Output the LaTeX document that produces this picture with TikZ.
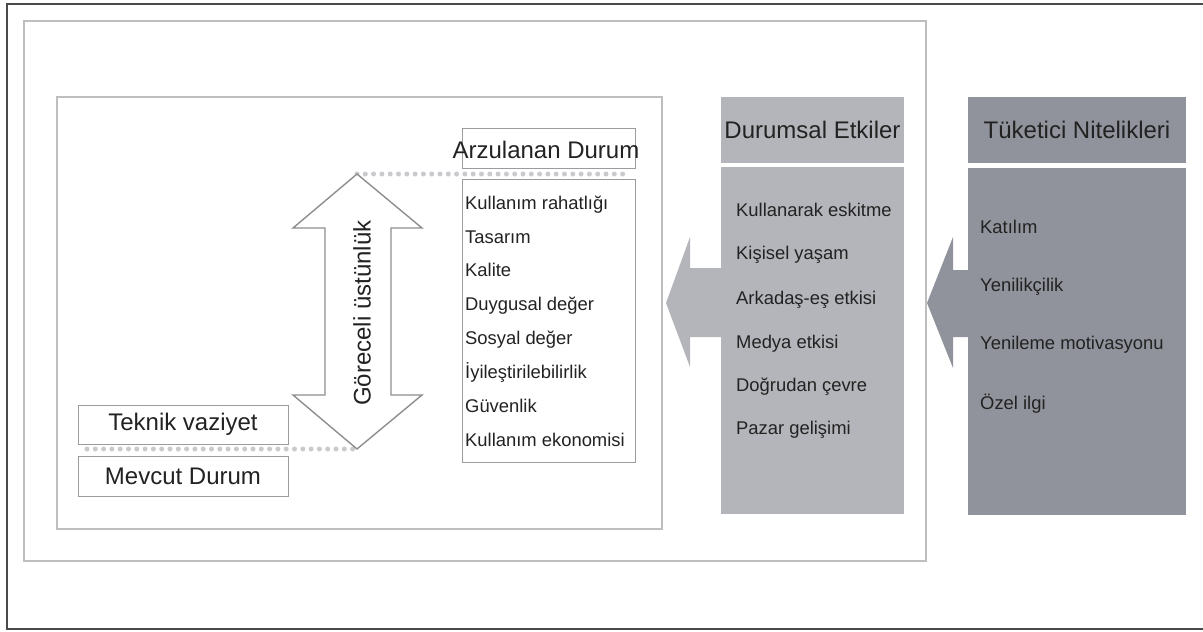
\documentclass[tikz,border=0pt]{standalone}
\usepackage{fontspec}
\setmainfont{Liberation Sans}
\usetikzlibrary{positioning}
\definecolor{ink}{HTML}{222222}
\definecolor{outerline}{HTML}{4A4A4A}
\definecolor{framegray}{HTML}{BEBEBE}
\definecolor{boxline}{HTML}{9C9C9C}
\definecolor{arrline}{HTML}{8E8E8E}
\definecolor{dotgray}{HTML}{C9C9CE}
\definecolor{situ}{HTML}{B4B5BA}
\definecolor{cons}{HTML}{90939B}

\begin{document}
\begin{tikzpicture}[
  x=1pt,y=-1pt,
  big/.style={font=\fontsize{24}{28}\selectfont,text=ink,inner sep=0pt,text height=17pt,text depth=0pt},
  item/.style={font=\fontsize{18.4}{22}\selectfont,text=ink,anchor=west,inner sep=0pt,text height=13pt,text depth=0pt},
  frame/.style={draw=framegray,line width=1.2pt},
  wbox/.style={draw=boxline,line width=1pt,fill=white,inner sep=0pt,font=\fontsize{24}{28}\selectfont,text=ink},
  gbox/.style={inner sep=0pt,font=\fontsize{24}{28}\selectfont,text=ink},
  dots/.style={draw=dotgray,line width=5pt,line cap=round,dash pattern=on 0pt off 8.3pt},
  dblarrow/.style={draw=arrline,line width=1.4pt,fill=white,line join=miter}
]
\useasboundingbox (0,0) rectangle (1203,632);

% Frames
\draw[draw=outerline,line width=1.5pt] (7,4) rectangle (1215,629);
\draw[frame] (24,21) rectangle (926,561);
\draw[frame] (57,97) rectangle (662,529);

% Relative advantage arrow
\coordinate (uptip) at (357,174);
\coordinate (dntip) at (357,449);
\coordinate (dotend) at (627,174);
\coordinate (dotstart) at (87,449);
\draw[dots] (uptip) -- (dotend);
\draw[dots] (dotstart) -- (dntip);
\draw[dblarrow] (uptip) -- ++(65,54) -- ++(-31,0) -- ++(0,167) -- ++(31,0) -- (dntip)
  -- ++(-64,-54) -- ++(32,0) -- ++(0,-167) -- ++(-32,0) -- cycle;
\node[big,rotate=90] (adv) at (362,313) {Göreceli üstünlük};

% Current state
\node[wbox,minimum width=210pt,minimum height=39pt] (tech) at (183,424.5) {Teknik vaziyet};
\node[wbox,minimum width=210pt,minimum height=40pt] (curr) at (183,476) {Mevcut Durum};

% Desired state
\node[wbox,minimum width=173pt,minimum height=40pt] (arz) at (548.5,148) {};
\node[big] (arzt) at (546,150) {Arzulanan Durum};
\node[wbox,minimum width=173pt,minimum height=283pt] (arzlist) at (548.5,320.5) {};
\node[item] (k1) at (465,203) {Kullanım rahatlığı};
\node[item] (k2) at (465,237) {Tasarım};
\node[item] (k3) at (465,270) {Kalite};
\node[item] (k4) at (465,304) {Duygusal değer};
\node[item] (k5) at (465,338) {Sosyal değer};
\node[item] (k6) at (465,372) {İyileştirilebilirlik};
\node[item] (k7) at (465,406) {Güvenlik};
\node[item] (k8) at (465,440) {Kullanım ekonomisi};

% Situational influences
\fill[situ] (722,268) -- (690,268) -- (690,237) -- (666,303) -- (690,367) -- (690,337) -- (722,337) -- cycle;
\node[gbox,fill=situ,minimum width=183pt,minimum height=66pt] (dhead) at (812.5,130) {Durumsal Etkiler};
\node[gbox,fill=situ,minimum width=183pt,minimum height=347pt] (dbody) at (812.5,340.5) {};
\node[item] (d1) at (736,210) {Kullanarak eskitme};
\node[item] (d2) at (736,253) {Kişisel yaşam};
\node[item] (d3) at (736,298) {Arkadaş-eş etkisi};
\node[item] (d4) at (736,342) {Medya etkisi};
\node[item] (d5) at (736,385) {Doğrudan çevre};
\node[item] (d6) at (736,428) {Pazar gelişimi};

% Consumer traits
\fill[cons] (969,270) -- (953,270) -- (953,237) -- (927,303) -- (953,368) -- (953,337) -- (969,337) -- cycle;
\node[gbox,fill=cons,minimum width=218pt,minimum height=66pt] (thead) at (1077,130) {Tüketici Nitelikleri};
\node[gbox,fill=cons,minimum width=218pt,minimum height=347pt] (tbody) at (1077,341.5) {};
\node[item] (t1) at (980,227) {Katılım};
\node[item] (t2) at (980,285) {Yenilikçilik};
\node[item] (t3) at (980,343) {Yenileme motivasyonu};
\node[item] (t4) at (980,403) {Özel ilgi};
\end{tikzpicture}
\end{document}
